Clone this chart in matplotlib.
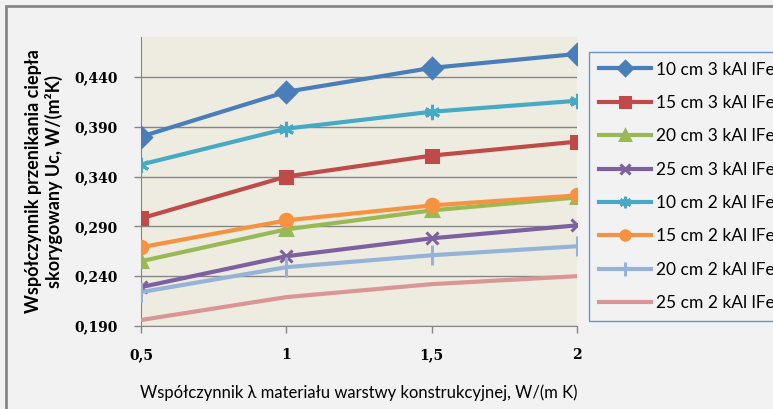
import matplotlib.pyplot as plt
from matplotlib.patches import Rectangle

lam = [0.5, 1, 1.5, 2]
labels = ["10 cm 3 kAl lFe", "15 cm 3 kAl lFe", "20 cm 3 kAl lFe", "25 cm 3 kAl lFe",
          "10 cm 2 kAl lFe", "15 cm 2 kAl lFe", "20 cm 2 kAl lFe", "25 cm 2 kAl lFe"]
u10_3 = [0.380, 0.425, 0.449, 0.463]
u15_3 = [0.298, 0.340, 0.361, 0.375]
u20_3 = [0.255, 0.287, 0.306, 0.319]
u25_3 = [0.229, 0.260, 0.278, 0.291]
u10_2 = [0.352, 0.388, 0.405, 0.416]
u15_2 = [0.269, 0.296, 0.311, 0.321]
u20_2 = [0.224, 0.249, 0.261, 0.270]
u25_2 = [0.196, 0.219, 0.232, 0.240]
series = [u10_3, u15_3, u20_3, u25_3, u10_2, u15_2, u20_2, u25_2]
yticks = [0.190, 0.240, 0.290, 0.340, 0.390, 0.440]

colors = ["#4a7ebb", "#be4b48", "#98b954", "#7d60a0", "#46aac5", "#f69240", "#95b3d7", "#d99694"]
markers = ["D", "s", "^", "x", (6, 2, 0), "o", "|", "None"]
msizes = [10, 9, 9, 9, 11, 9, 14, 0]

fig = plt.figure(figsize=(7.73, 4.09), dpi=100, facecolor="#f2f2f2")
ax = fig.add_axes([141 / 773, 1 - 326 / 409, 436 / 773, 289 / 409])
ax.set_facecolor("#eeece1")

handles = []
for y, lab, c, m, ms in zip(series, labels, colors, markers, msizes):
    h, = ax.plot(lam, y, color=c, lw=3, marker=m, ms=ms, mew=2.2,
                 mec=c, mfc=c, label=lab, zorder=3)
    handles.append(h)

ax.set_xlim(0.5, 2)
ax.set_ylim(0.19, 0.48)
ax.set_xticks(lam)
ax.set_xticklabels(["0,5", "1", "1,5", "2"])
ax.set_yticks(yticks)
ax.set_yticklabels([f"{v:.3f}".replace(".", ",") for v in yticks])
ax.grid(axis="y", color="#868686", lw=1)
ax.set_axisbelow(True)
for s in ["top", "right"]:
    ax.spines[s].set_visible(False)
for s in ["left", "bottom"]:
    ax.spines[s].set_color("#868686")
ax.tick_params(colors="#868686", length=5, width=1)
ax.tick_params(axis="y", pad=12)
ax.tick_params(axis="x", pad=11)
for t in ax.get_xticklabels() + ax.get_yticklabels():
    t.set_family("DejaVu Serif")
    t.set_fontweight("bold")
    t.set_fontsize(10)
    t.set_color("black")

ax.set_ylabel("Współczynnik przenikania ciepła\nskorygowany Uc, W/(m²K)",
              family="Lato", fontweight="bold", fontsize=13, labelpad=8, linespacing=1.15)
fig.text(359 / 773, 1 - 393 / 409,
         "Współczynnik λ materiału warstwy konstrukcyjnej, W/(m K)",
         family="Lato", fontsize=12, ha="center", va="center")

leg = ax.legend(handles=handles, loc="upper left",
                bbox_to_anchor=(589 / 773, 1 - 52 / 409), bbox_transform=fig.transFigure,
                prop={"family": "Lato", "size": 12.5}, frameon=True, fancybox=False,
                borderaxespad=0, handlelength=3.0, handletextpad=0.3, labelspacing=1.0,
                borderpad=0.55, markerscale=0.75)
leg.get_frame().set_edgecolor("#4a7ebb")
leg.get_frame().set_facecolor("#f2f2f2")
leg.get_frame().set_linewidth(1)

# outer chart frame
fig.patches.append(Rectangle((6 / 773, -0.1), 1.2, 1 - 6 / 409 + 0.1,
                             transform=fig.transFigure, fill=False,
                             edgecolor="#868686", lw=2))

fig.savefig("out.png", dpi=100, facecolor=fig.get_facecolor())
